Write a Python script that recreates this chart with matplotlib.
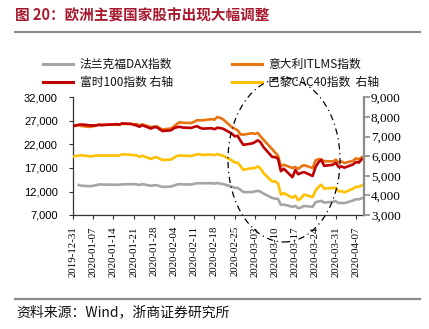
import matplotlib
matplotlib.use("Agg")
import matplotlib.pyplot as plt
import matplotlib.dates as mdates
from matplotlib.lines import Line2D
from matplotlib.patches import Ellipse
from matplotlib.ticker import FuncFormatter
import numpy as np
import pandas as pd

plt.rcParams['font.family'] = ['Noto Sans CJK SC', 'DejaVu Sans']

# Trading days shown on the chart (New Year's Day closed)
dates = pd.bdate_range('2019-12-31', '2020-04-09').drop(pd.Timestamp('2020-01-01'))

# Left axis: DAX (no print on 2019-12-31) and Italy ITLMS
dax = [np.nan,
       13385, 13219, 13127, 13227, 13321, 13495, 13483, 13452, 13456, 13432, 13430,
       13526, 13549, 13556, 13515, 13388, 13577, 13205, 13324, 13345, 13158, 12982,
       13046, 13282, 13479, 13575, 13514, 13494, 13627, 13750, 13745, 13745, 13784,
       13681, 13789, 13665, 13579, 13035, 12790, 12775, 12368, 11890,
       11857, 12039, 12128, 11944, 11542, 10625, 10475, 10439, 9161, 9232, 8742,
       8939, 8442, 8610, 8929, 8742, 9701, 9874, 10001, 9633, 9816, 9936,
       9544, 9571, 9525, 10075, 10356, 10333, 10565]
itlms = [25900,
         26150, 25920, 25740, 25900, 26010, 26290, 26180, 26240, 26250, 26180, 26240,
         26400, 26380, 26290, 26350, 26070, 26290, 25690, 25810, 25860, 25490, 25190,
         25410, 25850, 26400, 26730, 26620, 26570, 26840, 27170, 27140, 27150, 27390,
         27280, 27850, 27650, 27350, 25700, 25350, 25050, 24150, 24100,
         24400, 24250, 24450, 23700, 23000, 21000, 20300, 19600, 17400, 17700, 17000,
         17200, 16800, 17300, 17600, 17000, 18600, 18900, 18800, 18450, 18400, 18750,
         18200, 18400, 18050, 18550, 19050, 18850, 19300]

# Right axis: FTSE 100 and CAC 40
ftse = [7542,
        7604, 7623, 7576, 7574, 7575, 7598, 7588, 7618, 7622, 7642, 7610,
        7675, 7651, 7611, 7572, 7507, 7586, 7413, 7481, 7484, 7381, 7286,
        7326, 7439, 7483, 7504, 7466, 7446, 7499, 7534, 7452, 7409, 7433,
        7382, 7457, 7437, 7404, 7157, 7018, 7043, 6796, 6581,
        6654, 6718, 6815, 6705, 6463, 5965, 5960, 5876, 5237, 5366, 4930,
        5295, 5080, 5152, 5191, 4994, 5446, 5688, 5816, 5510, 5563, 5672,
        5455, 5480, 5416, 5582, 5704, 5678, 5843]
cac = [5978,
       6042, 6044, 5995, 6013, 6032, 6043, 6037, 6036, 6041, 6033, 6040,
       6101, 6079, 6046, 6054, 5971, 6025, 5863, 5926, 5955, 5873, 5806,
       5832, 5929, 6014, 6039, 6030, 6016, 6054, 6104, 6094, 6069, 6086,
       6057, 6112, 6062, 6030, 5792, 5680, 5679, 5495, 5310,
       5394, 5393, 5485, 5372, 5139, 4707, 4724, 4610, 4044, 4118, 3881,
       3992, 3754, 3855, 4049, 3914, 4243, 4432, 4543, 4351, 4378, 4396,
       4207, 4220, 4154, 4346, 4438, 4442, 4507]

left_ticks = [7000, 12000, 17000, 22000, 27000, 32000]
right_ticks = [3000, 4000, 5000, 6000, 7000, 8000, 9000]

labels = ['法兰克福DAX指数', '意大利ITLMS指数', '富时100指数 右轴', '巴黎CAC40指数  右轴']
colors = ['#A5A5A5', '#E9730F', '#C00000', '#FFC000']
title = '图 20：欧洲主要国家股市出现大幅调整'
source = '资料来源：Wind，浙商证券研究所'

W, H = 429, 329
fig = plt.figure(figsize=(W / 100, H / 100), dpi=100)

def fx(px):
    return px / W

def fy(py):
    return 1 - py / H

ax = fig.add_axes([fx(73), fy(215), fx(364) - fx(73), fy(97.5) - fy(215)])
ax2 = ax.twinx()

lw = 1.9
ax.plot(dates, dax, color=colors[0], lw=lw)
ax.plot(dates, itlms, color=colors[1], lw=lw)
ax2.plot(dates, ftse, color=colors[2], lw=lw)
ax2.plot(dates, cac, color=colors[3], lw=lw)

ax.set_ylim(left_ticks[0], left_ticks[-1])
ax.set_yticks(left_ticks)
ax2.set_ylim(right_ticks[0], right_ticks[-1])
ax2.set_yticks(right_ticks)
comma = FuncFormatter(lambda v, p: f'{int(v):,}')
ax.yaxis.set_major_formatter(comma)
ax2.yaxis.set_major_formatter(comma)

ax.set_xlim(pd.Timestamp('2019-12-31'), pd.Timestamp('2020-04-09 19:00'))
ax.set_xticks(pd.date_range('2019-12-31', '2020-04-07', freq='7D'))
ax.xaxis.set_major_formatter(mdates.DateFormatter('%Y-%m-%d'))

for a in (ax, ax2):
    a.spines['top'].set_visible(False)
ax.spines['right'].set_visible(False)
ax2.spines['left'].set_visible(False)
ax2.spines['bottom'].set_visible(False)
ax.spines['left'].set_color('#333333')
ax.spines['left'].set_linewidth(0.9)
ax.spines['bottom'].set_color('#333333')
ax.spines['bottom'].set_linewidth(0.9)
ax2.spines['right'].set_color('#8C8C8C')
ax2.spines['right'].set_linewidth(1.6)

ax.tick_params(axis='y', direction='out', length=3, width=0.8, color='#333333', pad=8)
ax.tick_params(axis='x', direction='out', length=3, width=0.8, color='#333333', pad=5)
ax2.tick_params(axis='y', direction='out', length=4, width=1.2, color='#8C8C8C', pad=1)

for t in ax.get_yticklabels():
    t.set_fontfamily('Liberation Sans')
    t.set_fontsize(8)
for t in ax2.get_yticklabels():
    t.set_fontfamily('Liberation Serif')
    t.set_fontsize(9.5)
for t in ax.get_xticklabels():
    t.set_fontfamily('Liberation Serif')
    t.set_fontsize(7.8)
    t.set_rotation(90)

# Legend, two rows by two columns
legend_rows = [64, 82]
legend_cols = [(43, 73, 80), (232, 262, 268)]
order = [(0, 0, 0), (1, 0, 1), (2, 1, 0), (3, 1, 1)]
for idx, r, c in order:
    x0, x1, xt = legend_cols[c]
    y = fy(legend_rows[r])
    fig.add_artist(Line2D([fx(x0), fx(x1)], [y, y], color=colors[idx], lw=2.2))
    fig.text(fx(xt), y, labels[idx], fontsize=8.5, va='center', ha='left', color='#111111')

# Title and rules
fig.text(fx(15), fy(15.5), title, fontsize=10.5, fontweight='bold', color='#A6192E',
         va='center', ha='left')
fig.add_artist(Line2D([fx(15), fx(420)], [fy(32), fy(32)], color='#8C8C8C', lw=1.6))
fig.add_artist(Line2D([fx(15), fx(420)], [fy(299), fy(299)], color='#8C8C8C', lw=1.6))
fig.text(fx(16), fy(312.5), source, fontsize=10, va='center', ha='left', color='#111111',
         family=['Noto Sans CJK SC', 'DejaVu Sans'])

# Dash-dot ellipse marking the sell-off
ell = Ellipse((fx(284), fy(160)), width=112 / W, height=164 / H, transform=fig.transFigure,
              fill=False, edgecolor='black', lw=0.9, linestyle=(0, (5, 3, 1, 3)),
              clip_on=False, zorder=10)
fig.add_artist(ell)

fig.savefig('out.png', dpi=100)
